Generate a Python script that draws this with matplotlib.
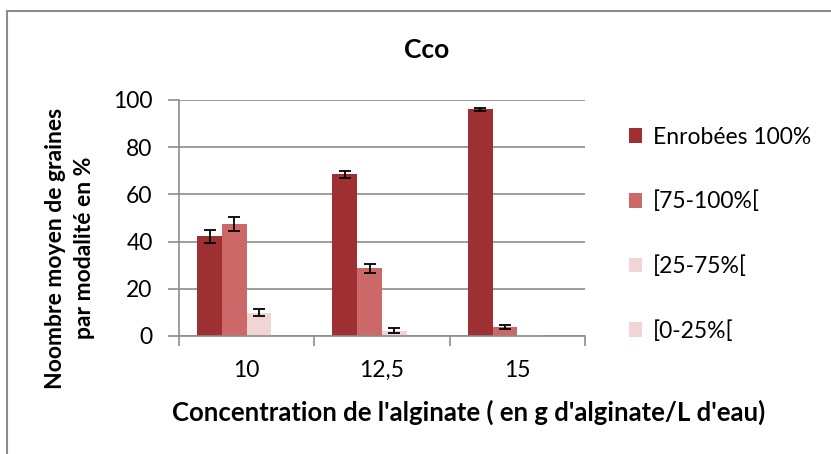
import numpy as np
import matplotlib
matplotlib.use("Agg")
import matplotlib.pyplot as plt
from matplotlib.patches import Rectangle

plt.rcParams['font.family'] = ['Lato', 'DejaVu Sans']

# data
concentrations = ['10', '12,5', '15']
series_names = ['Enrobées 100%', '[75-100%[', '[25-75%[', '[0-25%[']
enrobees = [42.3, 68.5, 96.0]
c75_100 = [47.4, 28.7, 3.7]
c25_75 = [9.9, 2.3, 0.3]
c0_25 = [0, 0, 0]
err_enrobees = [2.7, 1.4, 0.75]
err_75_100 = [3.0, 2.0, 0.8]
err_25_75 = [1.6, 1.2, 0]
err_0_25 = [0, 0, 0]
colors = ['#9E3033', '#CD6868', '#F2D4D5', '#F2D4D5']

values = [enrobees, c75_100, c25_75, c0_25]
errors = [err_enrobees, err_75_100, err_25_75, err_0_25]

W, H = 831, 454
fig = plt.figure(figsize=(W / 100, H / 100), dpi=100)
ax = fig.add_axes([179 / W, 1 - 336 / H, (585 - 179) / W, (336 - 100) / H])

x = np.arange(len(concentrations))
bw = 0.183
for i, (vals, errs, col) in enumerate(zip(values, errors, colors)):
    pos = x - 1.5 * bw + i * bw
    ax.bar(pos, vals, width=bw, color=col, edgecolor='none', label=series_names[i], zorder=2)
    show = [e > 0 for e in errs]
    ax.errorbar(pos[show], np.array(vals)[show], yerr=np.array(errs)[show], fmt='none',
                ecolor='black', elinewidth=1.3, capsize=4, capthick=1.3, zorder=3)

ax.set_xlim(-0.5, 2.5)
ax.set_ylim(0, 100)
ax.set_yticks(range(0, 101, 20))
ax.yaxis.grid(True, color='#8C8C8C', linewidth=1.2, zorder=0)
ax.set_axisbelow(True)
for s in ['top', 'right']:
    ax.spines[s].set_visible(False)
for s in ['left', 'bottom']:
    ax.spines[s].set_color('#8C8C8C')
    ax.spines[s].set_linewidth(1.2)

ax.set_xticks(x)
ax.set_xticklabels(concentrations)
ax.set_xticks([-0.5, 0.5, 1.5, 2.5], minor=True)
ax.tick_params(axis='x', which='major', length=0, pad=17, labelsize=16.5)
ax.tick_params(axis='x', which='minor', length=7, width=1.2, color='#8C8C8C')
ax.tick_params(axis='y', length=8, width=1.2, color='#8C8C8C', pad=11, labelsize=16.5)

fig.text(469 / W, 1 - 412 / H, "Concentration de l'alginate ( en g d'alginate/L d'eau)",
         ha='center', va='center', fontsize=18.5, fontweight='bold')
fig.text(70 / W, 1 - 248 / H, "Noombre moyen de graines\npar modalité en %",
         rotation=90, ha='center', va='center', fontsize=16.5, fontweight='bold',
         linespacing=1.45)
fig.text(427 / W, 1 - 50 / H, "Cco", ha='center', va='center',
         fontsize=19, fontweight='bold')

fig.legend(loc='upper left', bbox_to_anchor=(608 / W, 1 - 106 / H), frameon=False,
           fontsize=16.5, handlelength=0.6, handleheight=0.6, handletextpad=0.45,
           labelspacing=1.88)

# chart frame (cropped on right and bottom)
fig.patches.append(Rectangle((7 / W, -0.1), 1.2, 1 - 11 / H + 0.1, transform=fig.transFigure,
                             fill=False, edgecolor='#8C8C8C', linewidth=1.5))

fig.savefig('out.png', dpi=100)
